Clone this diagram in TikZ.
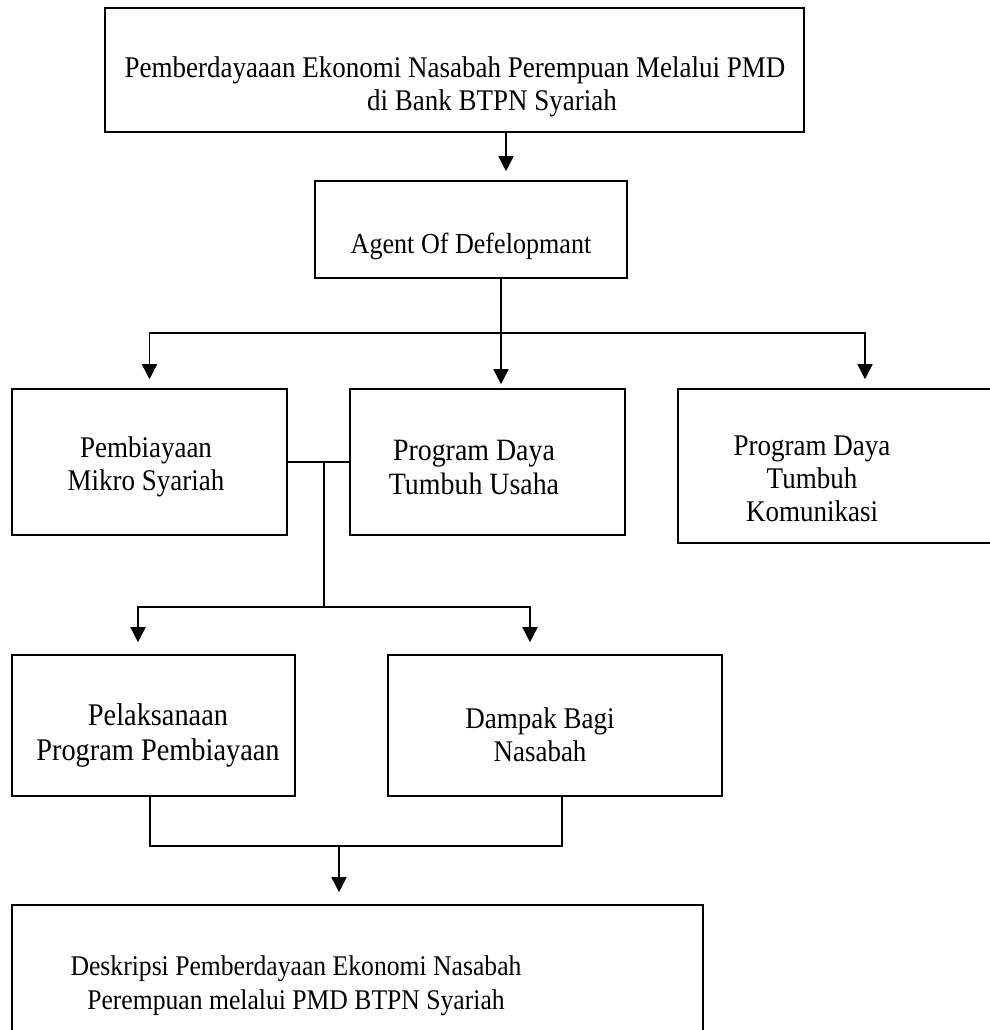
\documentclass[tikz,border=0pt]{standalone}
\usepackage{fontspec}
\setmainfont{Liberation Serif}[FakeStretch=0.9]
\usetikzlibrary{arrows.meta,calc}
\begin{document}
\begin{tikzpicture}[x=1pt,y=-1pt,
  box/.style={draw,line width=1.6pt,rectangle,inner sep=0pt},
  lbl/.style={align=center,font=\fontsize{30}{33}\selectfont,inner sep=0pt},
  conn/.style={line width=1.6pt},
  arr/.style={line width=1.6pt,-{Triangle[width=15pt,length=15pt]}}]
\useasboundingbox (0,0) rectangle (989,1030);
% boxes
\node[box,minimum width=699pt,minimum height=124pt] (top) at (454.5,70) {};
\node[box,minimum width=312pt,minimum height=97pt] (agent) at (471,229.5) {};
\node[box,minimum width=275pt,minimum height=146pt] (pms) at (149.5,462) {};
\node[box,minimum width=275pt,minimum height=146pt] (pdtu) at (487.5,462) {};
\node[box,minimum width=322pt,minimum height=154pt] (pdtk) at (839,466) {};
\node[box,minimum width=283pt,minimum height=141pt] (pel) at (153.5,725.5) {};
\node[box,minimum width=334pt,minimum height=141pt] (dam) at (555,725.5) {};
\node[box,minimum width=691pt,minimum height=140pt] (desk) at (357.5,975) {};
% labels
\node[lbl] (ttop) at (455,87) {Pemberdayaaan Ekonomi Nasabah Perempuan Melalui PMD\\\hspace*{74pt}di Bank BTPN Syariah};
\node[lbl,font=\fontsize{29}{32}\selectfont] (tagent) at (471,246) {Agent Of Defelopmant};
\node[lbl] (tpms) at (146,467) {Pembiayaan\\Mikro Syariah};
\node[lbl,font=\fontsize{31}{34}\selectfont] (tpdtu) at (474,467) {Program Daya\\Tumbuh Usaha};
\node[lbl] (tpdtk) at (812,479) {Program Daya\\Tumbuh\\Komunikasi};
\node[lbl,font=\fontsize{31.5}{35}\selectfont] (tpel) at (158,735) {Pelaksanaan\\Program Pembiayaan};
\node[lbl] (tdam) at (540,735) {Dampak Bagi\\Nasabah};
\node[lbl,font=\fontsize{28.5}{34}\selectfont] (tdesk) at (296,986) {Deskripsi Pemberdayaan Ekonomi Nasabah\\Perempuan melalui PMD BTPN Syariah};
% connectors
\coordinate (hub) at (501,333);
\coordinate (split) at (324,607);
\coordinate (join) at (339,846);
\draw[arr] ([xshift=51.5pt]top.south) -- ([xshift=35pt,yshift=9pt]agent.north);
\draw[arr] ([xshift=30pt]agent.south) -- ([xshift=13.5pt,yshift=4pt]pdtu.north);
\draw[arr] (hub) -| ([yshift=9pt]pms.north);
\draw[arr] (hub) -| ([xshift=26pt,yshift=9pt]pdtk.north);
\draw[conn] (pms.east) -- (pdtu.west);
\draw[conn] (pms.east -| split) -- (split);
\draw[arr] (split) -| ([xshift=-15.5pt,yshift=12pt]pel.north);
\draw[arr] (split) -| ([xshift=-25pt,yshift=12pt]dam.north);
\draw[conn] ([xshift=-3.5pt]pel.south) |- (join) -| ([xshift=7pt]dam.south);
\draw[arr] (join) -- ([yshift=12pt]desk.north -| join);
\end{tikzpicture}
\end{document}
